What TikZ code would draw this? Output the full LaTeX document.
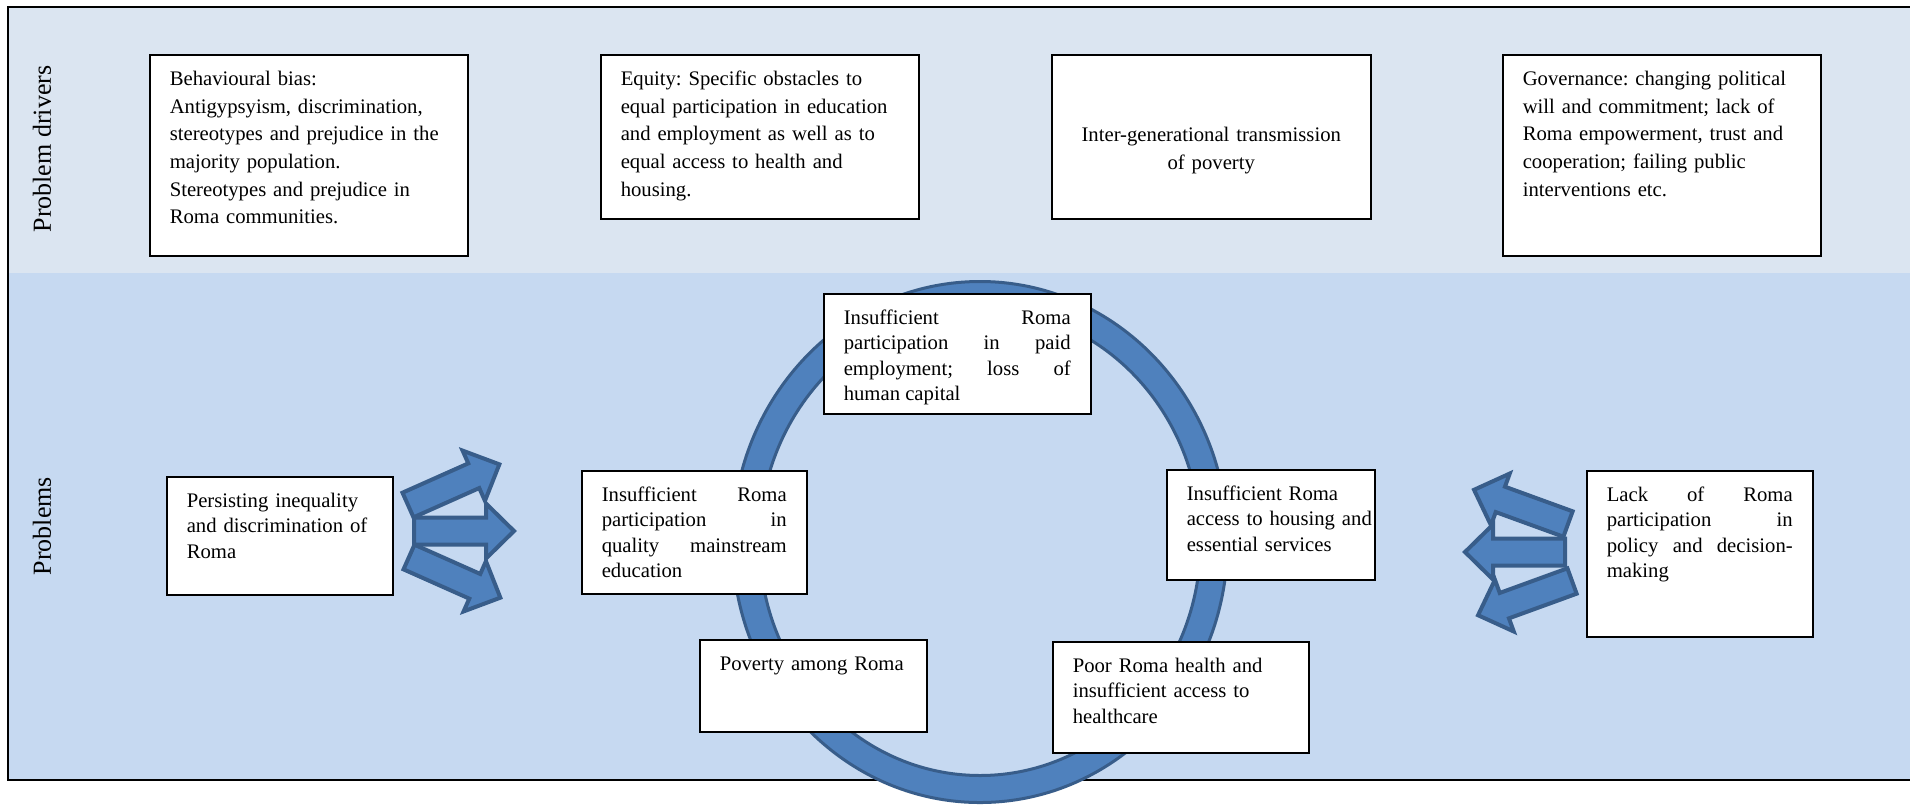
\documentclass[tikz,border=0pt]{standalone}
\usepackage{fontspec}
\setmainfont{Liberation Serif}
\frenchspacing
\definecolor{topband}{HTML}{DBE5F1}
\definecolor{lowband}{HTML}{C6D9F1}
\definecolor{ringfill}{HTML}{4F81BD}
\definecolor{ringline}{HTML}{385D8A}
\tikzset{
  box/.style={draw, fill=white, line width=0.75pt, anchor=north west,
    inner xsep=10pt, inner ysep=0pt, text height=15.5pt, align=left},
  driver/.style={box, font=\fontsize{10.35}{13.8}\selectfont},
  problem/.style={box, font=\fontsize{10.35}{12.6}\selectfont},
  sidelabel/.style={rotate=90, font=\fontsize{13}{15}\selectfont},
  ringband/.style={fill=ringfill, draw=ringline, line width=1.5pt},
  blockarrow/.style={fill=ringfill, draw=ringline, line width=2pt, line join=miter}
}
\begin{document}
\begin{tikzpicture}[x=0.5pt, y=-0.5pt]
  \useasboundingbox (0,0) rectangle (1910,805);

  % the two bands and the frame
  \fill[topband] (8,7) rectangle (1910,273);
  \fill[lowband] (8,273) rectangle (1910,780);
  \draw[line width=1.2pt] (1910,7) -- (8,7) -- (8,780) -- (1910,780);

  \node[sidelabel] (drivers) at (42,149) {Problem drivers};
  \node[sidelabel] (problems) at (42,526) {Problems};

  % the cycle
  \draw[ringband, even odd rule]
    (980,542) ellipse [x radius=247.5, y radius=260.5]
    (980,542) ellipse [x radius=220.5, y radius=233.5];

  % drivers
  \node[driver, text width=139pt, text depth=85pt] (bias) at (149,54)
    {Behavioural bias:\\ Antigypsyism, discrimination,\\ stereotypes and prejudice in the\\
     majority population.\\ Stereotypes and prejudice in\\ Roma communities.};
  \node[driver, text width=139pt, text depth=66.5pt] (equity) at (600,54)
    {Equity: Specific obstacles to\\ equal participation in education\\ and employment as well as to\\
     equal access to health and\\ housing.};
  \node[driver, align=center, text width=139.5pt, text height=43.5pt, text depth=38.5pt] (transmission) at (1051,54)
    {Inter-generational transmission\\ of poverty};
  \node[driver, text width=139pt, text depth=85pt] (governance) at (1502,54)
    {Governance: changing political\\ will and commitment; lack of\\ Roma empowerment, trust and\\
     cooperation; failing public\\ interventions etc.};

  % problems
  \node[problem, text width=93pt, text depth=43.5pt] (inequality) at (166,476)
    {Persisting inequality\\ and discrimination of\\ Roma};
  \node[problem, align=justify, text width=92.5pt, text depth=46pt] (education) at (581,470)
    {Insufficient Roma\linebreak participation in\linebreak quality mainstream\linebreak education};
  \node[problem, align=justify, text width=113.5pt, text depth=44.5pt] (employment) at (823,293)
    {Insufficient Roma\linebreak participation in paid\linebreak employment; loss of\linebreak human capital};
  \node[problem, text width=84pt, text depth=39.5pt] (housing) at (1166,469)
    {Insufficient Roma\\ \mbox{access to housing and}\\ essential services};
  \node[problem, text width=93.5pt, text depth=30.5pt] (poverty) at (699,639)
    {Poverty among Roma};
  \node[problem, text width=108pt, text depth=40pt] (health) at (1052,641)
    {Poor Roma health and\\ insufficient access to\\ healthcare};
  \node[problem, align=justify, text width=93pt, text depth=67.5pt] (participation) at (1586,470)
    {Lack of Roma\linebreak participation in\linebreak policy and decision-\linebreak making};

  % block arrows
  \foreach \x/\y/\a in {408/505/24, 409/557/-24, 414/531/0, 1568/524/160, 1572/581/200, 1565/552/180}
    \draw[blockarrow, shift={(\x,\y)}, rotate=\a]
      (0,-13.5) -- (72,-13.5) -- (72,-27.5) -- (100,0) -- (72,27.5) -- (72,13.5) -- (0,13.5) -- cycle;
\end{tikzpicture}
\end{document}
